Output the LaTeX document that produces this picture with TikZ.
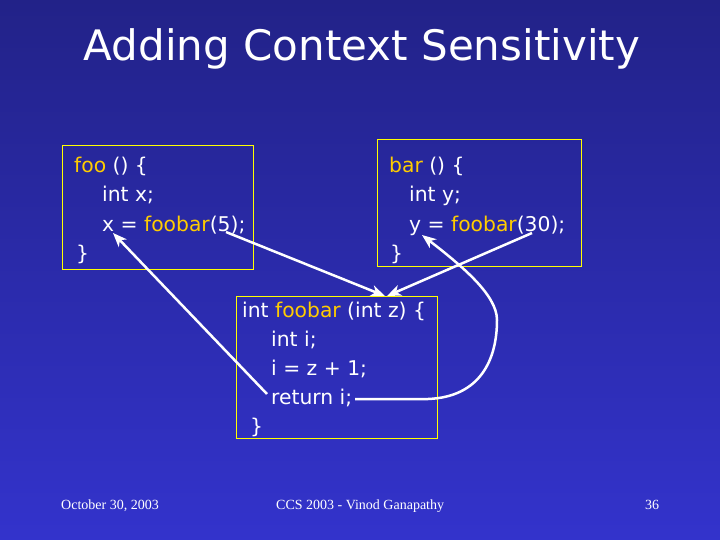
\documentclass[tikz,border=0pt]{standalone}
\usepackage{fontspec}
\setmainfont{DejaVu Sans}
\newfontfamily\footfont{Liberation Serif}
\usetikzlibrary{arrows.meta}
\definecolor{bgtop}{HTML}{222288}
\definecolor{bgbot}{HTML}{3333CC}
\definecolor{kw}{HTML}{FFCC00}
\definecolor{boxline}{HTML}{FFFF00}
\tikzset{
  code/.style={anchor=base west, inner sep=0pt, text=white, font=\fontsize{20.3}{24}\selectfont},
  codebox/.style={draw=boxline, line width=1pt},
  foot/.style={anchor=base west, inner sep=0pt, text=white, font=\footfont\fontsize{14}{16}\selectfont},
  callarrow/.style={draw=white, line width=2.5pt, -{Stealth[length=14pt,width=11pt,inset=4pt]}},
}
\newcommand{\kwd}[1]{\textcolor{kw}{#1}}
\begin{document}
\begin{tikzpicture}[x=1pt,y=-1pt]
\shade[top color=bgtop, bottom color=bgbot] (0,0) rectangle (720,540);
\useasboundingbox (0,0) rectangle (720,540);

% title
\node[anchor=base, inner sep=0pt, text=white, font=\fontsize{42}{48}\selectfont] (title) at (362,61) {Adding Context Sensitivity};

% boxes
\draw[codebox] (62,146) rectangle (253,269);
\draw[codebox] (377,140) rectangle (581,266);
\draw[codebox] (236,296) rectangle (437,438);

% foo
\node[code] (f1) at (74,173) {\kwd{foo} () \{};
\node[code] (f2) at (102,202) {int x;};
\node[code] (f3) at (102,231) {x = \kwd{foobar}(5);};
\node[code] (f4) at (76,260) {\}};

% bar
\node[code] (b1) at (389,173) {\kwd{bar} () \{};
\node[code] (b2) at (409,202) {int y;};
\node[code] (b3) at (409,231) {y = \kwd{foobar}(30);};
\node[code] (b4) at (390,260) {\}};

% foobar
\node[code] (g1) at (242,317) {int \kwd{foobar} (int z) \{};
\node[code] (g2) at (271,346) {int i;};
\node[code] (g3) at (271,375) {i = z + 1;};
\node[code] (g4) at (271,404) {return i;};
\node[code] (g5) at (250,433) {\}};

% connector end points
\coordinate (c5) at (226,232);
\coordinate (c30) at (532,233);
\coordinate (entA) at (385,296);
\coordinate (entB) at (387,296);
\coordinate (retL) at (267,394);
\coordinate (retR) at (355,399);
\coordinate (retx) at (113,233);
\coordinate (rety) at (422,235);

\draw[callarrow] (c5) -- (entA);
\draw[callarrow] (c30) -- (entB);
\draw[callarrow] (retL) -- (retx);
\draw[callarrow] (retR) -- (428,399) .. controls (480,397) and (497,360) .. (497,320) .. controls (497,295) and (462,266) .. (rety);

% footer
\node[foot] (d) at (61,509) {October 30, 2003};
\node[foot] (c) at (276,509) {CCS 2003 - Vinod Ganapathy};
\node[foot] (n) at (645,509) {36};
\end{tikzpicture}
\end{document}
